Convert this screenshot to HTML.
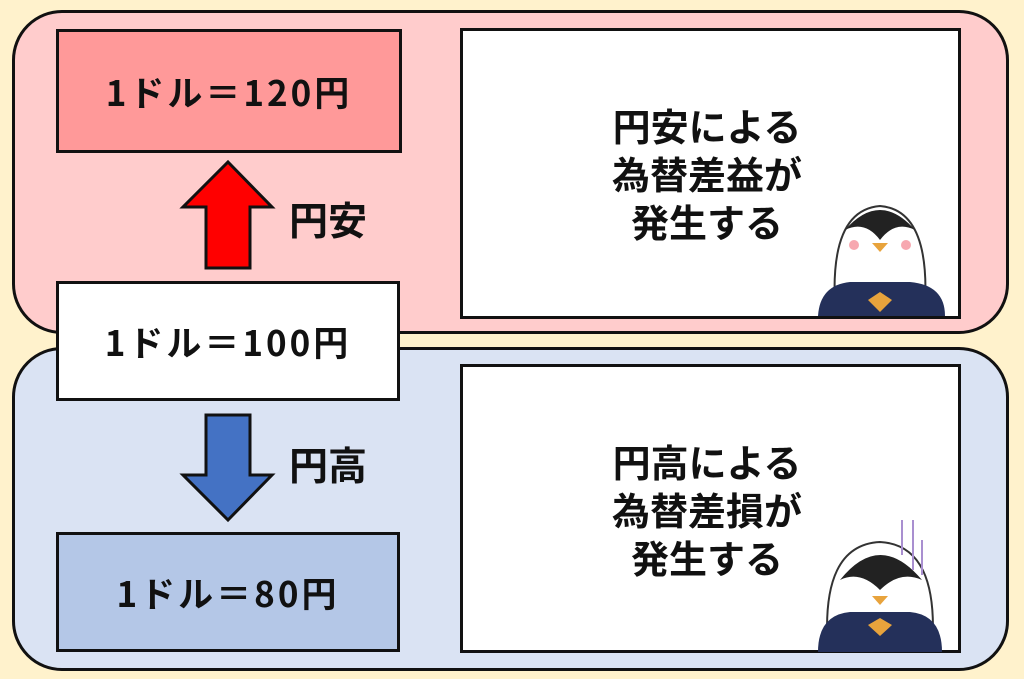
<!DOCTYPE html>
<html><head><meta charset="utf-8"><style>
body{margin:0;width:1024px;height:679px;background:#FFF2CC;position:relative;overflow:hidden;font-family:"Noto Sans CJK JP","Liberation Sans",sans-serif;font-weight:bold;color:#111}
.c{position:absolute;border:3px solid #111;border-radius:50px;box-sizing:border-box}
.b{position:absolute;border:3px solid #111;box-sizing:border-box;display:flex;align-items:center;justify-content:center;font-size:35px;letter-spacing:3px}
.t{position:absolute;font-size:38px;text-align:center;line-height:48px}
.l{position:absolute;font-size:39px;line-height:40px}
</style></head><body>
<div class="c" style="left:12px;top:10px;width:997px;height:324px;background:#FFCCCC"></div>
<div class="c" style="left:12px;top:347px;width:997px;height:324px;background:#DAE3F3"></div>
<div class="b" style="left:56px;top:29px;width:346px;height:124px;background:#FF9999">1ドル＝120円</div>
<div class="b" style="left:56px;top:281px;width:344px;height:120px;background:#fff">1ドル＝100円</div>
<div class="b" style="left:56px;top:532px;width:344px;height:120px;background:#B4C7E7">1ドル＝80円</div>
<svg style="position:absolute;left:0;top:0" width="1024" height="679">
<polygon points="228,162 272,207 250,207 250,268 206,268 206,207 183,207" fill="#FF0000" stroke="#111" stroke-width="3"/>
<polygon points="228,520 272,475 250,475 250,415 206,415 206,475 183,475" fill="#4472C4" stroke="#111" stroke-width="3"/>
</svg>
<div class="l" style="left:289px;top:199px">円安</div>
<div class="l" style="left:289px;top:444px">円高</div>
<div class="b" style="left:460px;top:28px;width:501px;height:291px;background:#fff;display:block"></div>
<div class="b" style="left:460px;top:364px;width:501px;height:289px;background:#fff;display:block"></div>
<div class="t" style="left:557px;top:101px;width:300px">円安による<br>為替差益が<br>発生する</div>
<div class="t" style="left:557px;top:437px;width:300px">円高による<br>為替差損が<br>発生する</div>
<svg style="position:absolute;left:0;top:0" width="1024" height="679">
<g>
<path d="M835,305 Q830,210 880,206 Q930,210 925,305 Z" fill="#fff" stroke="#333" stroke-width="2"/>
<path d="M845,230 Q880,190 915,230 Q895,220 880,240 Q865,220 845,230Z" fill="#222"/>
<path d="M818,316 Q820,285 850,282 L910,282 Q945,285 945,316 Z" fill="#24305A"/>
<polygon points="868,300 880,292 892,300 880,312" fill="#E8A33C"/>
<circle cx="854" cy="245" r="5" fill="#F7A8B0"/><circle cx="906" cy="245" r="5" fill="#F7A8B0"/>
<polygon points="872,243 888,243 880,252" fill="#E8A33C"/>
</g>
<g>
<path d="M828,650 Q820,545 880,542 Q940,545 932,650 Z" fill="#fff" stroke="#333" stroke-width="2"/>
<path d="M840,580 Q880,530 922,580 Q900,570 880,590 Q860,570 840,580Z" fill="#222"/>
<path d="M818,652 Q818,615 850,612 L910,612 Q942,615 942,652 Z" fill="#24305A"/>
<polygon points="868,625 880,618 892,625 880,636" fill="#E8A33C"/>
<polygon points="872,596 888,596 880,605" fill="#E8A33C"/>
<g stroke="#A98FD0" stroke-width="2"><line x1="902" y1="520" x2="902" y2="555"/><line x1="913" y1="520" x2="913" y2="570"/><line x1="922" y1="540" x2="922" y2="575"/></g>
</g>
</svg>
</body></html>
